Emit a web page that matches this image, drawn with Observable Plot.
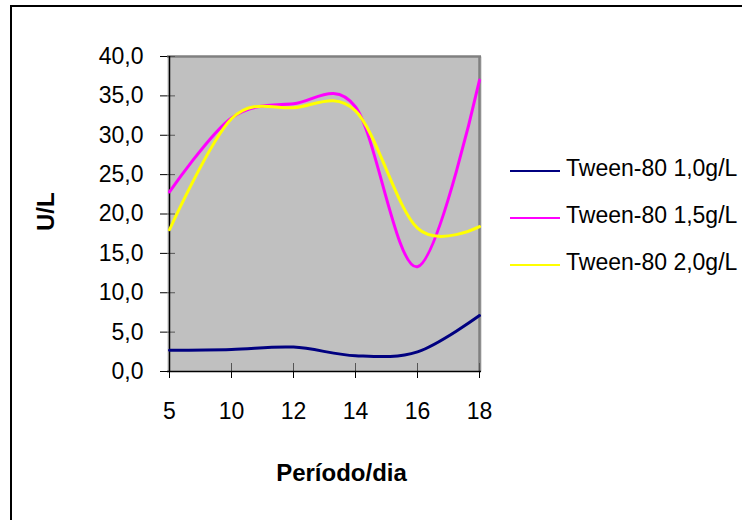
<!DOCTYPE html>
<html><head><meta charset="utf-8">
<script src="https://cdn.jsdelivr.net/npm/d3@7"></script>
<script src="https://cdn.jsdelivr.net/npm/@observablehq/plot@0.6"></script>
<style>
body{margin:0;background:#fff;}
#wrap{position:relative;width:742px;height:520px;overflow:hidden;font-family:"Liberation Sans",Arial,sans-serif;}
#border{position:absolute;left:10px;top:5px;width:800px;height:600px;border-left:2px solid #000;border-top:2px solid #000;}
#chart{position:absolute;left:0;top:0;}
#legend{position:absolute;left:510px;top:145px;}
.row{display:flex;align-items:center;height:47px;font-size:23px;color:#000;white-space:nowrap;}
.sw{width:50px;height:0;border-top:2px solid;margin-right:6px;margin-top:4px;}
</style></head>
<body><div id="wrap"><div id="border"></div><div id="chart"></div><div id="legend"></div></div>
<script>
const days = ["5", "10", "12", "14", "16", "18"];
const seriesNames = ["Tween-80 1,0g/L", "Tween-80 1,5g/L", "Tween-80 2,0g/L"];
const tween10 = [2.7, 2.8, 3.1, 2.0, 2.5, 7.1];
const tween15 = [22.8, 32.2, 34.0, 33.6, 13.3, 37.0];
const tween20 = [18.0, 32.1, 33.5, 33.1, 18.2, 18.4];
const seriesColors = ["#000080", "#FF00FF", "#FFFF00"];
const yTicks = [0, 5, 10, 15, 20, 25, 30, 35, 40];
const xTitle = "Período/dia";
const yTitle = "U/L";

const values = [tween10, tween15, tween20];
const data = seriesNames.flatMap((s, i) => values[i].map((v, j) => ({series: s, day: days[j], value: v})));
const fmt = d => d.toFixed(1).replace(".", ",");

const chart = Plot.plot({
  width: 742, height: 520,
  marginLeft: 167, marginRight: 261, marginTop: 56, marginBottom: 149,
  style: {fontFamily: "Liberation Sans, Arial, sans-serif", fontSize: "23px", background: "transparent", color: "#000"},
  x: {type: "point", domain: days, padding: 0},
  y: {domain: [0, 40]},
  color: {domain: seriesNames, range: seriesColors},
  marks: [
    Plot.frame({fill: "#c0c0c0", stroke: null}),
    Plot.ruleY([40], {stroke: "#808080", strokeWidth: 2.5}),
    Plot.ruleX([days[days.length - 1]], {stroke: "#808080", strokeWidth: 2.5}),
    Plot.axisY({ticks: yTicks, tickSize: 7, tickPadding: 17, tickFormat: fmt, label: null, fontSize: 23, stroke: "#000"}),
    Plot.axisY({ticks: yTicks, tickSize: -8, tickFormat: () => "", label: null, stroke: "#555"}),
    Plot.axisX({tickSize: 7, tickPadding: 24, label: null, fontSize: 23, stroke: "#000"}),
    Plot.axisX({tickSize: -8, tickFormat: () => "", label: null, stroke: "#555"}),
    Plot.ruleY([0], {stroke: "#000", strokeWidth: 1.5}),
    Plot.ruleX([days[0]], {stroke: "#000", strokeWidth: 1.5}),
    Plot.line(data, {x: "day", y: "value", z: "series", stroke: "series", strokeWidth: 3, curve: "cardinal"}),
    Plot.text([xTitle], {frameAnchor: "bottom", dx: 17, dy: 109, fontWeight: "bold", fontSize: 24}),
    Plot.text([yTitle], {frameAnchor: "left", rotate: -90, dx: -121, dy: 17, fontWeight: "bold", fontSize: 24})
  ]
});
document.getElementById("chart").appendChild(chart);

const legend = document.getElementById("legend");
seriesNames.forEach((s, i) => {
  const row = document.createElement("div");
  row.className = "row";
  const sw = document.createElement("span");
  sw.className = "sw";
  sw.style.borderTopColor = seriesColors[i];
  const t = document.createElement("span");
  t.textContent = s;
  row.appendChild(sw); row.appendChild(t);
  legend.appendChild(row);
});
</script>
</body></html>
